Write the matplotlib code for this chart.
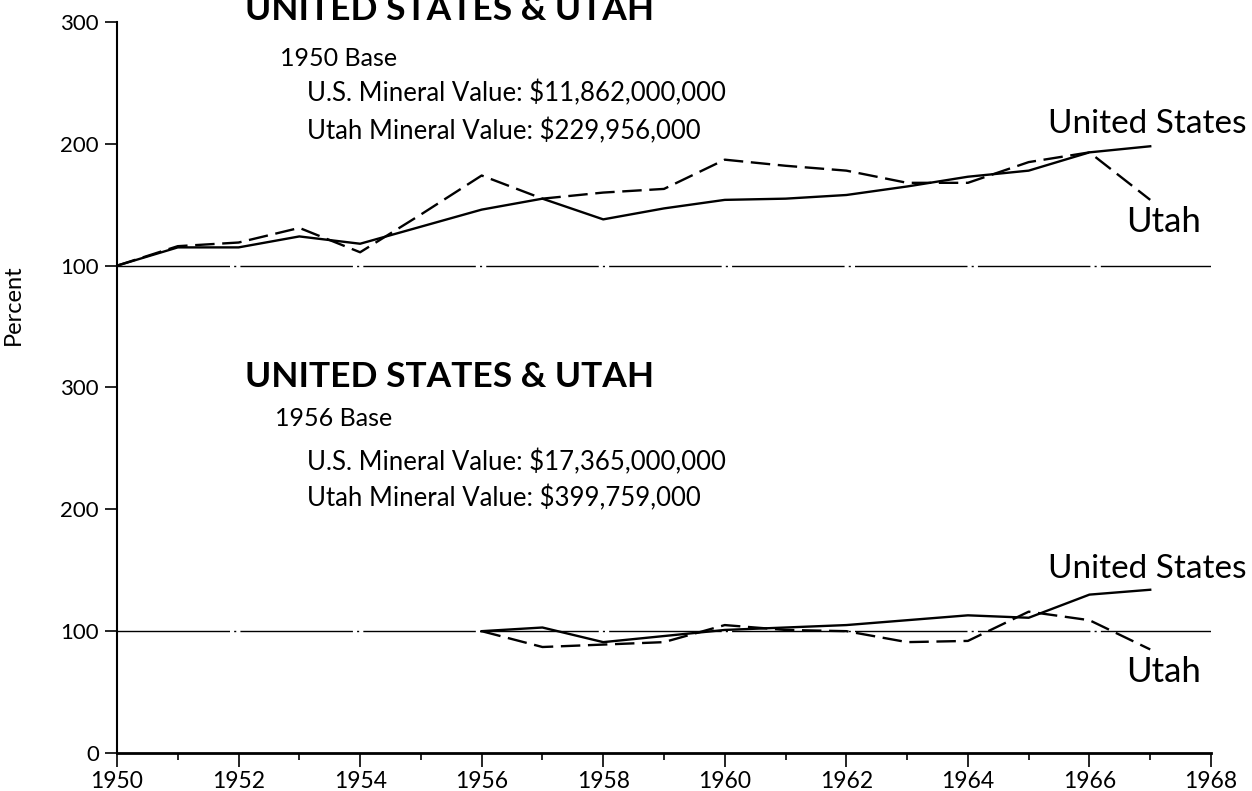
import numpy as np
import matplotlib.pyplot as plt
from matplotlib.ticker import MultipleLocator

# mineral value index, 1950 base
years_50 = np.arange(1950, 1968)
us_1950 = [100, 115, 115, 124, 118, 132, 146, 155, 138, 147, 154, 155, 158, 165, 173, 178, 193, 198]
utah_1950 = [100, 116, 119, 131, 111, 142, 174, 155, 160, 163, 187, 182, 178, 168, 168, 185, 193, 154]

# mineral value index, 1956 base
years_56 = np.arange(1956, 1968)
us_1956 = [100, 103, 91, 96, 101, 103, 105, 109, 113, 111, 130, 134]
utah_1956 = [100, 87, 89, 91, 105, 101, 100, 91, 92, 116, 109, 85]

ytick_pos = [0, 100, 200, 300, 400, 500, 600]
ytick_labels = ['0', '100', '200', '300', '100', '200', '300']

plt.rcParams['font.family'] = ['Lato', 'DejaVu Sans']
plt.rcParams['lines.scale_dashes'] = False

TOP = 300  # upper panel sits 300 units above the lower one

fig = plt.figure(figsize=(12.52, 7.91), dpi=100)
ax = fig.add_axes([117 / 1252, 38 / 791, 1094 / 1252, 731 / 791])
ax.set_xlim(1950, 1968)
ax.set_ylim(0, 600)

refdash = (0, (81, 3, 1.5, 3))
ax.axhline(100, color='black', lw=1.0, linestyle=refdash)
ax.axhline(100 + TOP, color='black', lw=1.0, linestyle=refdash)

ax.plot(years_50, np.array(us_1950) + TOP, color='black', lw=1.7)
ax.plot(years_50, np.array(utah_1950) + TOP, color='black', lw=1.7, linestyle=(0, (14, 5.5)))
ax.plot(years_56, us_1956, color='black', lw=1.7)
ax.plot(years_56, utah_1956, color='black', lw=1.7, linestyle=(0, (14, 5.5)))

# panel texts
ax.text(1952.11, 601.5, 'UNITED STATES & UTAH', fontsize=25.5, fontweight='bold', va='baseline')
ax.text(1952.69, 563.7, '1950 Base', fontsize=18, va='baseline')
ax.text(1953.13, 534.9, 'U.S. Mineral Value: $11,862,000,000', fontsize=18.5, va='baseline')
ax.text(1953.13, 503.7, 'Utah Mineral Value: $229,956,000', fontsize=18.5, va='baseline')

ax.text(1952.11, 300.7, 'UNITED STATES & UTAH', fontsize=25.5, fontweight='bold', va='baseline')
ax.text(1952.6, 268.7, '1956 Base', fontsize=18, va='baseline')
ax.text(1953.13, 231.7, 'U.S. Mineral Value: $17,365,000,000', fontsize=18.5, va='baseline')
ax.text(1953.13, 202.1, 'Utah Mineral Value: $399,759,000', fontsize=18.5, va='baseline')

ax.text(1965.32, 508.6, 'United States', fontsize=24, va='baseline')
ax.text(1966.6, 427.3, 'Utah', fontsize=25, va='baseline')
ax.text(1965.32, 143.8, 'United States', fontsize=24, va='baseline')
ax.text(1966.6, 58.6, 'Utah', fontsize=25, va='baseline')

ax.set_ylabel('Percent', fontsize=17)
ax.yaxis.set_label_coords(-0.085, 368 / 600)

ax.set_yticks(ytick_pos)
ax.set_yticklabels(ytick_labels)
ax.xaxis.set_major_locator(MultipleLocator(2))
ax.xaxis.set_minor_locator(MultipleLocator(1))
ax.tick_params(axis='y', length=9, width=1.2, labelsize=16, pad=4)
ax.tick_params(axis='x', which='major', length=10, width=1.2, labelsize=16.5, pad=3)
ax.tick_params(axis='x', which='minor', length=5, width=1.2)

ax.spines['top'].set_visible(False)
ax.spines['right'].set_visible(False)
ax.spines['left'].set_linewidth(1.5)
ax.spines['bottom'].set_linewidth(2.0)

fig.savefig('out.png', dpi=100)
